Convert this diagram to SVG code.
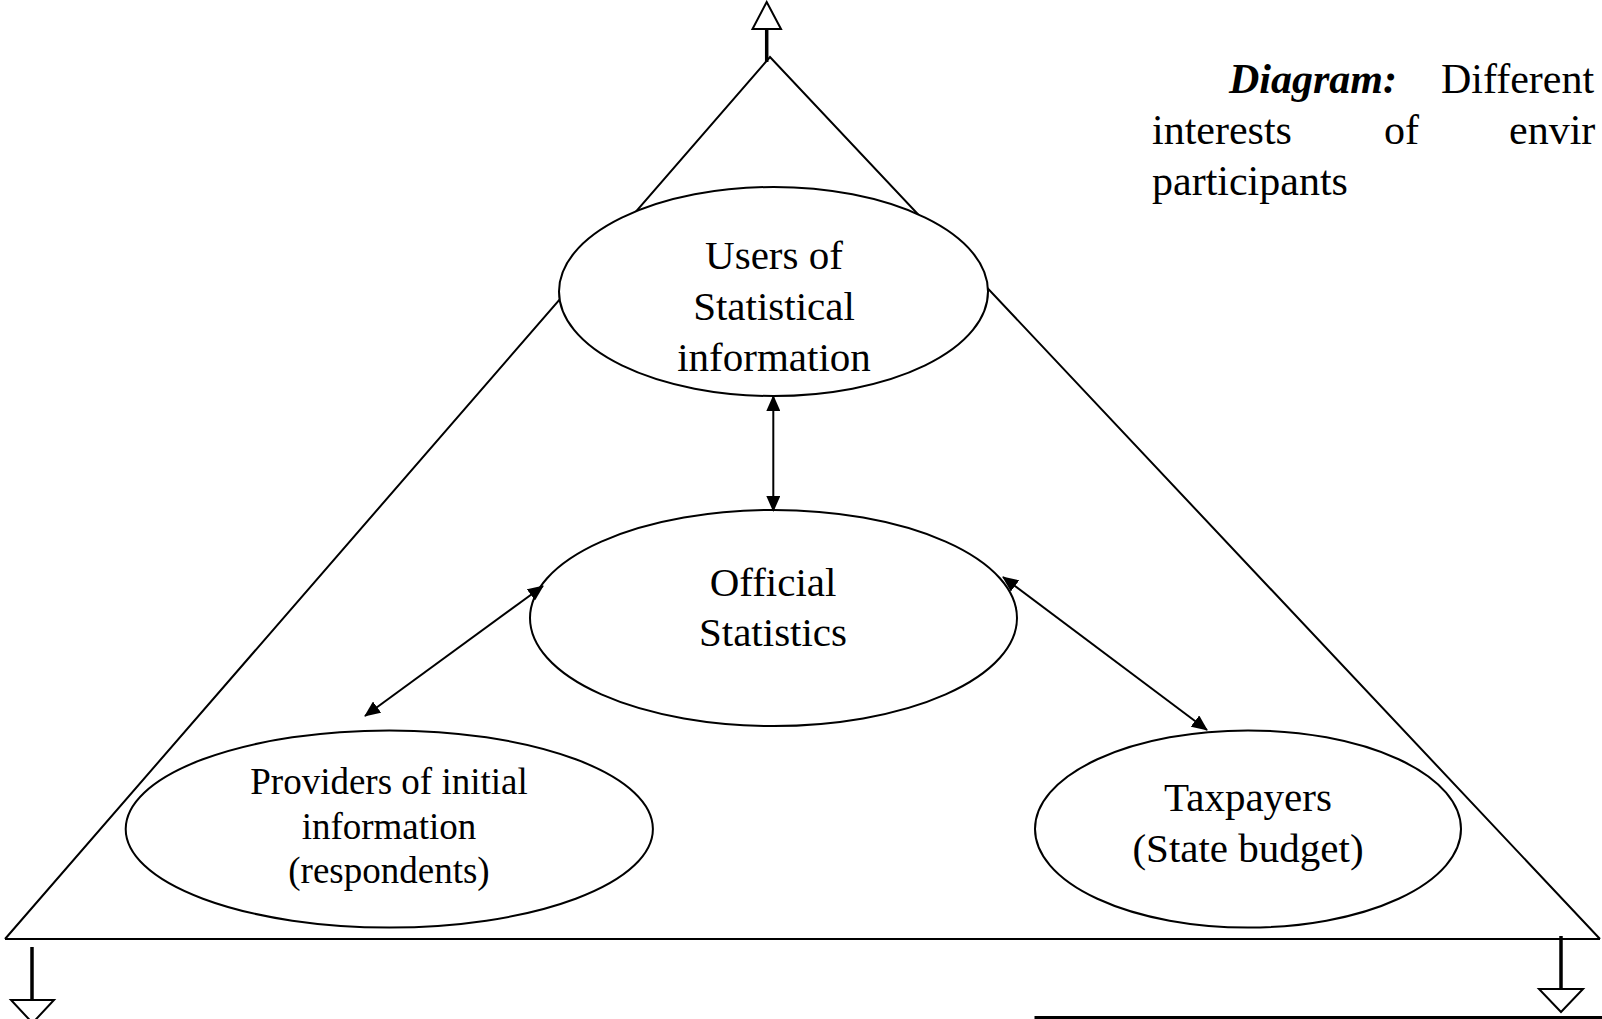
<svg xmlns="http://www.w3.org/2000/svg" width="1602" height="1019" viewBox="0 0 1602 1019">
<style>
.ln{fill:none;stroke:#000;stroke-width:2}
.el{fill:#fff;stroke:#000;stroke-width:2}
.hd{fill:#fff;stroke:#000;stroke-width:2;stroke-linejoin:miter}
.stem{stroke:#000;stroke-width:3.5}
.t{font-family:"Liberation Serif","Times New Roman",serif;fill:#000;text-anchor:middle}
.big{font-size:41px}
.sm{font-size:37px}
.cap{font-family:"Liberation Serif","Times New Roman",serif;font-size:42px;fill:#000}
.con{fill:none;stroke:#000;stroke-width:2;marker-start:url(#ah);marker-end:url(#ah)}
</style>
<defs>
<marker id="ah" viewBox="0 0 16 14" refX="15" refY="7" markerWidth="16" markerHeight="14" markerUnits="userSpaceOnUse" orient="auto-start-reverse">
<path d="M0,0 L16,7 L0,14 Z" fill="#000"/>
</marker>
</defs>
<rect width="1602" height="1019" fill="#fff"/>
<g id="frame">
<polyline class="ln" points="5,939 770,57 1600,939"/>
<line class="ln" x1="5" y1="939" x2="1600" y2="939"/>
<line class="stem" x1="766.7" y1="28" x2="766.7" y2="62"/>
<polygon class="hd" points="766.7,2 752.5,29 781,29"/>
<line class="stem" x1="32" y1="947" x2="32" y2="1000"/>
<polygon class="hd" points="11,1000 54,1000 32.5,1023"/>
<line class="stem" x1="1561" y1="936" x2="1561" y2="990"/>
<polygon class="hd" points="1539,989 1583,989 1561,1012"/>
<rect x="1036" y="1017.5" width="600" height="100" fill="none" stroke="#000" stroke-width="3"/>
</g>
<g id="caption">
<text class="cap" x="1229" y="93" font-weight="bold" font-style="italic">Diagram:</text>
<text class="cap" x="1441" y="93">Different</text>
<text class="cap" x="1152" y="144">interests</text>
<text class="cap" x="1384" y="144">of</text>
<text class="cap" x="1509" y="144">envir</text>
<text class="cap" x="1152" y="195">participants</text>
</g>
<g id="users">
<ellipse class="el" cx="773.5" cy="291.5" rx="214.5" ry="104.5"/>
<text class="t big" x="774" y="269">Users of</text>
<text class="t big" x="774" y="320">Statistical</text>
<text class="t big" x="774" y="371">information</text>
</g>
<g id="official">
<ellipse class="el" cx="773.5" cy="618" rx="243.5" ry="108"/>
<text class="t big" x="773" y="596">Official</text>
<text class="t big" x="773" y="646">Statistics</text>
</g>
<g id="providers">
<ellipse class="el" cx="389.3" cy="829" rx="263.6" ry="98.6"/>
<text class="t sm" x="389" y="794">Providers of initial</text>
<text class="t sm" x="389" y="839">information</text>
<text class="t sm" x="389" y="883">(respondents)</text>
</g>
<g id="taxpayers">
<ellipse class="el" cx="1248" cy="829" rx="213" ry="98.6"/>
<text class="t big" x="1248" y="811">Taxpayers</text>
<text class="t big" x="1248" y="862">(State budget)</text>
</g>
<g id="connectors">
<line class="con" x1="773.3" y1="396" x2="773.3" y2="511"/>
<line class="con" x1="543" y1="586" x2="365" y2="716"/>
<line class="con" x1="1003" y1="577" x2="1207" y2="730"/>
</g>
</svg>
